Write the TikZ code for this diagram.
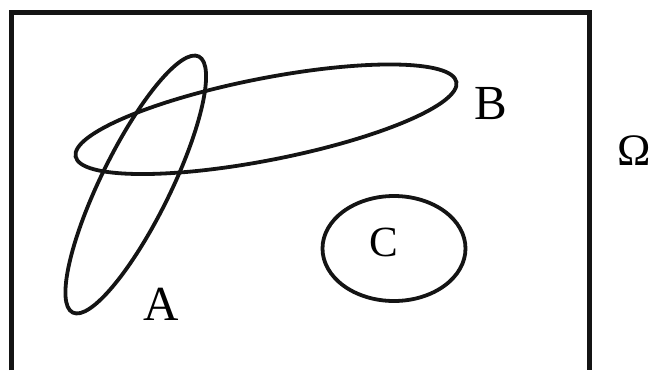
\documentclass[tikz,border=0pt]{standalone}
\usepackage{fontspec}
\setmainfont{Liberation Serif}
\begin{document}
\begin{tikzpicture}[x=1pt,y=1pt,
  setline/.style={line width=3.8pt, draw=black!92},
  frameline/.style={line width=4.5pt, draw=black!92},
  biglabel/.style={font=\fontsize{49}{49}\selectfont, anchor=base, inner sep=0pt, text=black},
  midlabel/.style={font=\fontsize{43}{43}\selectfont, anchor=base, inner sep=0pt, text=black},
  omegalabel/.style={font=\fontsize{45}{45}\selectfont, anchor=base, inner sep=0pt, text=black}]
\useasboundingbox (0,-370) rectangle (653,0);
% universe frame (bottom edge lies outside the picture)
\draw[frameline] (11.5,-370) -- (11.5,-12.5) -- (589.5,-12.5) -- (589.5,-370);
% sets
\draw[setline] (135.75,-184.5) ellipse[x radius=142.7pt, y radius=34.8pt, rotate=63.8];
\draw[setline] (266,-119.25) ellipse[x radius=194pt, y radius=40.9pt, rotate=11.08];
\draw[setline] (394,-248.5) ellipse[x radius=71.5pt, y radius=52.5pt];
% labels
\node[biglabel] (labA) at (161,-320) {A};
\node[biglabel] (labB) at (490.5,-119) {B};
\node[midlabel] (labC) at (384,-256) {C};
\node[omegalabel] (labO) at (634.5,-165) {Ω};
\end{tikzpicture}
\end{document}
